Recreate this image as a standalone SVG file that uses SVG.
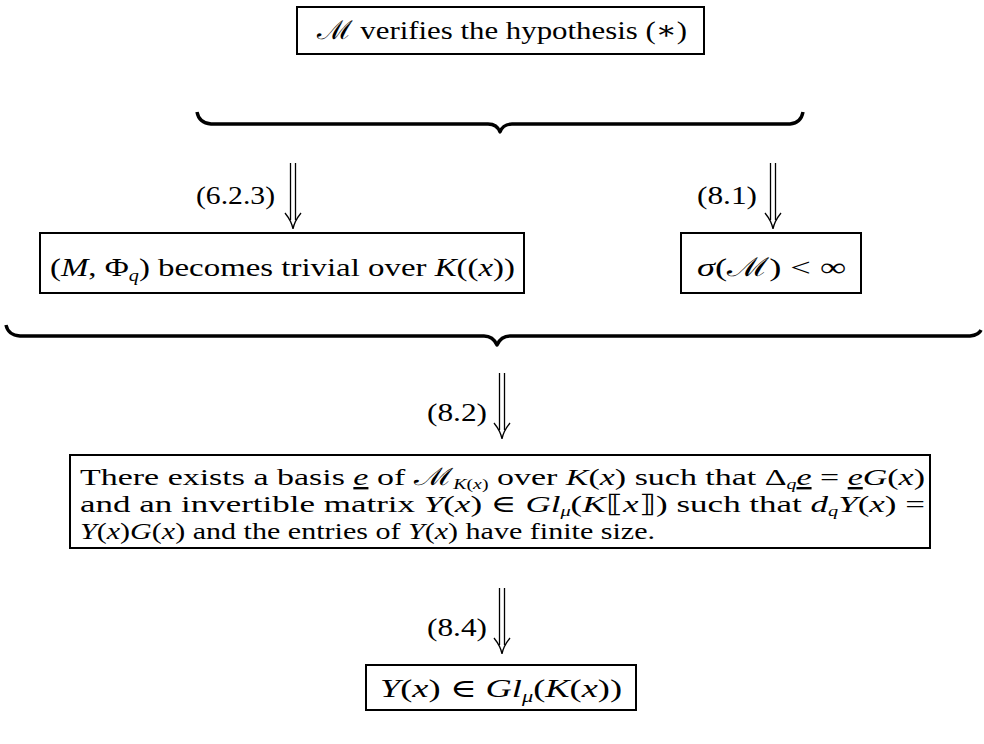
<svg xmlns="http://www.w3.org/2000/svg" width="984" height="744" viewBox="0 0 984 744">
<style>
.box{fill:#fff;stroke:#000;stroke-width:2}
.t{font-family:"Liberation Serif","DejaVu Serif",serif;font-size:26px;fill:#000}
.b4{font-size:24px}
.lab{font-family:"Liberation Serif","DejaVu Serif",serif;font-size:25px;fill:#000}
.i{font-style:italic}
.u{text-decoration:underline}
.s{font-size:16px}
.s4{font-size:14px}
.brace{fill:none;stroke:#000;stroke-width:3.4;stroke-linejoin:round}
.arr{fill:none;stroke:#000;stroke-width:1.3}
</style>
<defs>
<g id="darrow">
<line class="arr" x1="-2.5" y1="0" x2="-2.5" y2="57"/>
<line class="arr" x1="2.5" y1="0" x2="2.5" y2="57"/>
<path class="arr" d="M-8,50 C-4,55 -1,60 0,66 C1,60 4,55 8,50"/>
</g>
</defs>
<g id="n1">
<rect class="box" x="297" y="7" width="407" height="47"/>
<text class="t" x="317" y="39" textLength="370" lengthAdjust="spacingAndGlyphs">ℳ verifies the hypothesis (∗)</text>
</g>
<g id="n2">
<rect class="box" x="40" y="233" width="484" height="60"/>
<text class="t" x="50" y="276" textLength="465" lengthAdjust="spacingAndGlyphs">(<tspan class="i">M</tspan>, Φ<tspan class="i s" dy="5">q</tspan><tspan dy="-5">) becomes trivial over </tspan><tspan class="i">K</tspan>((<tspan class="i">x</tspan>))</text>
</g>
<g id="n3">
<rect class="box" x="681" y="233" width="180" height="60"/>
<text class="t" x="697" y="276" textLength="149" lengthAdjust="spacingAndGlyphs"><tspan class="i">σ</tspan>(ℳ) &lt; ∞</text>
</g>
<g id="n4">
<rect class="box" x="70" y="455" width="860" height="93"/>
<text class="t b4" x="80" y="485" textLength="845" lengthAdjust="spacingAndGlyphs">There exists a basis <tspan class="i u">e</tspan> of ℳ<tspan class="i s4" dy="4">K</tspan><tspan class="s4">(</tspan><tspan class="i s4">x</tspan><tspan class="s4">)</tspan><tspan dy="-4"> over </tspan><tspan class="i">K</tspan>(<tspan class="i">x</tspan>) such that Δ<tspan class="i s4" dy="4">q</tspan><tspan class="i u" dy="-4">e</tspan> = <tspan class="i u">e</tspan><tspan class="i">G</tspan>(<tspan class="i">x</tspan>)</text>
<text class="t b4" x="80" y="512" textLength="845" lengthAdjust="spacingAndGlyphs">and an invertible matrix <tspan class="i">Y</tspan>(<tspan class="i">x</tspan>) ∈ <tspan class="i">Gl</tspan><tspan class="i s4" dy="4">μ</tspan><tspan dy="-4">(</tspan><tspan class="i">K</tspan>⟦<tspan class="i">x</tspan>⟧) such that <tspan class="i">d</tspan><tspan class="i s4" dy="4">q</tspan><tspan class="i" dy="-4">Y</tspan>(<tspan class="i">x</tspan>) =</text>
<text class="t b4" x="80" y="539" textLength="575" lengthAdjust="spacingAndGlyphs"><tspan class="i">Y</tspan>(<tspan class="i">x</tspan>)<tspan class="i">G</tspan>(<tspan class="i">x</tspan>) and the entries of <tspan class="i">Y</tspan>(<tspan class="i">x</tspan>) have finite size.</text>
</g>
<g id="n5">
<rect class="box" x="366" y="665" width="270" height="45"/>
<text class="t" x="380" y="697" textLength="242" lengthAdjust="spacingAndGlyphs"><tspan class="i">Y</tspan>(<tspan class="i">x</tspan>) ∈ <tspan class="i">Gl</tspan><tspan class="i s" dy="5">μ</tspan><tspan dy="-5">(</tspan><tspan class="i">K</tspan>(<tspan class="i">x</tspan>))</text>
</g>
<g id="connectors">
<path class="brace" d="M197,112 Q199,123 211,124 L488,124 Q497,124 500,132 Q503,124 512,124 L790,124 Q801,123 803,112"/>
<path class="brace" d="M6,325 Q8,335 20,336 L484,336 Q493,336 497,345 Q501,336 510,336 L970,336 Q979,335 981,330"/>
<use href="#darrow" transform="translate(293,163)"/>
<use href="#darrow" transform="translate(773,163)"/>
<use href="#darrow" transform="translate(502,373)"/>
<use href="#darrow" transform="translate(502,588)"/>
<text class="lab" x="196" y="204" textLength="79" lengthAdjust="spacingAndGlyphs">(6.2.3)</text>
<text class="lab" x="697" y="204" textLength="60" lengthAdjust="spacingAndGlyphs">(8.1)</text>
<text class="lab" x="427" y="421" textLength="60" lengthAdjust="spacingAndGlyphs">(8.2)</text>
<text class="lab" x="427" y="636" textLength="60" lengthAdjust="spacingAndGlyphs">(8.4)</text>
</g>
</svg>
